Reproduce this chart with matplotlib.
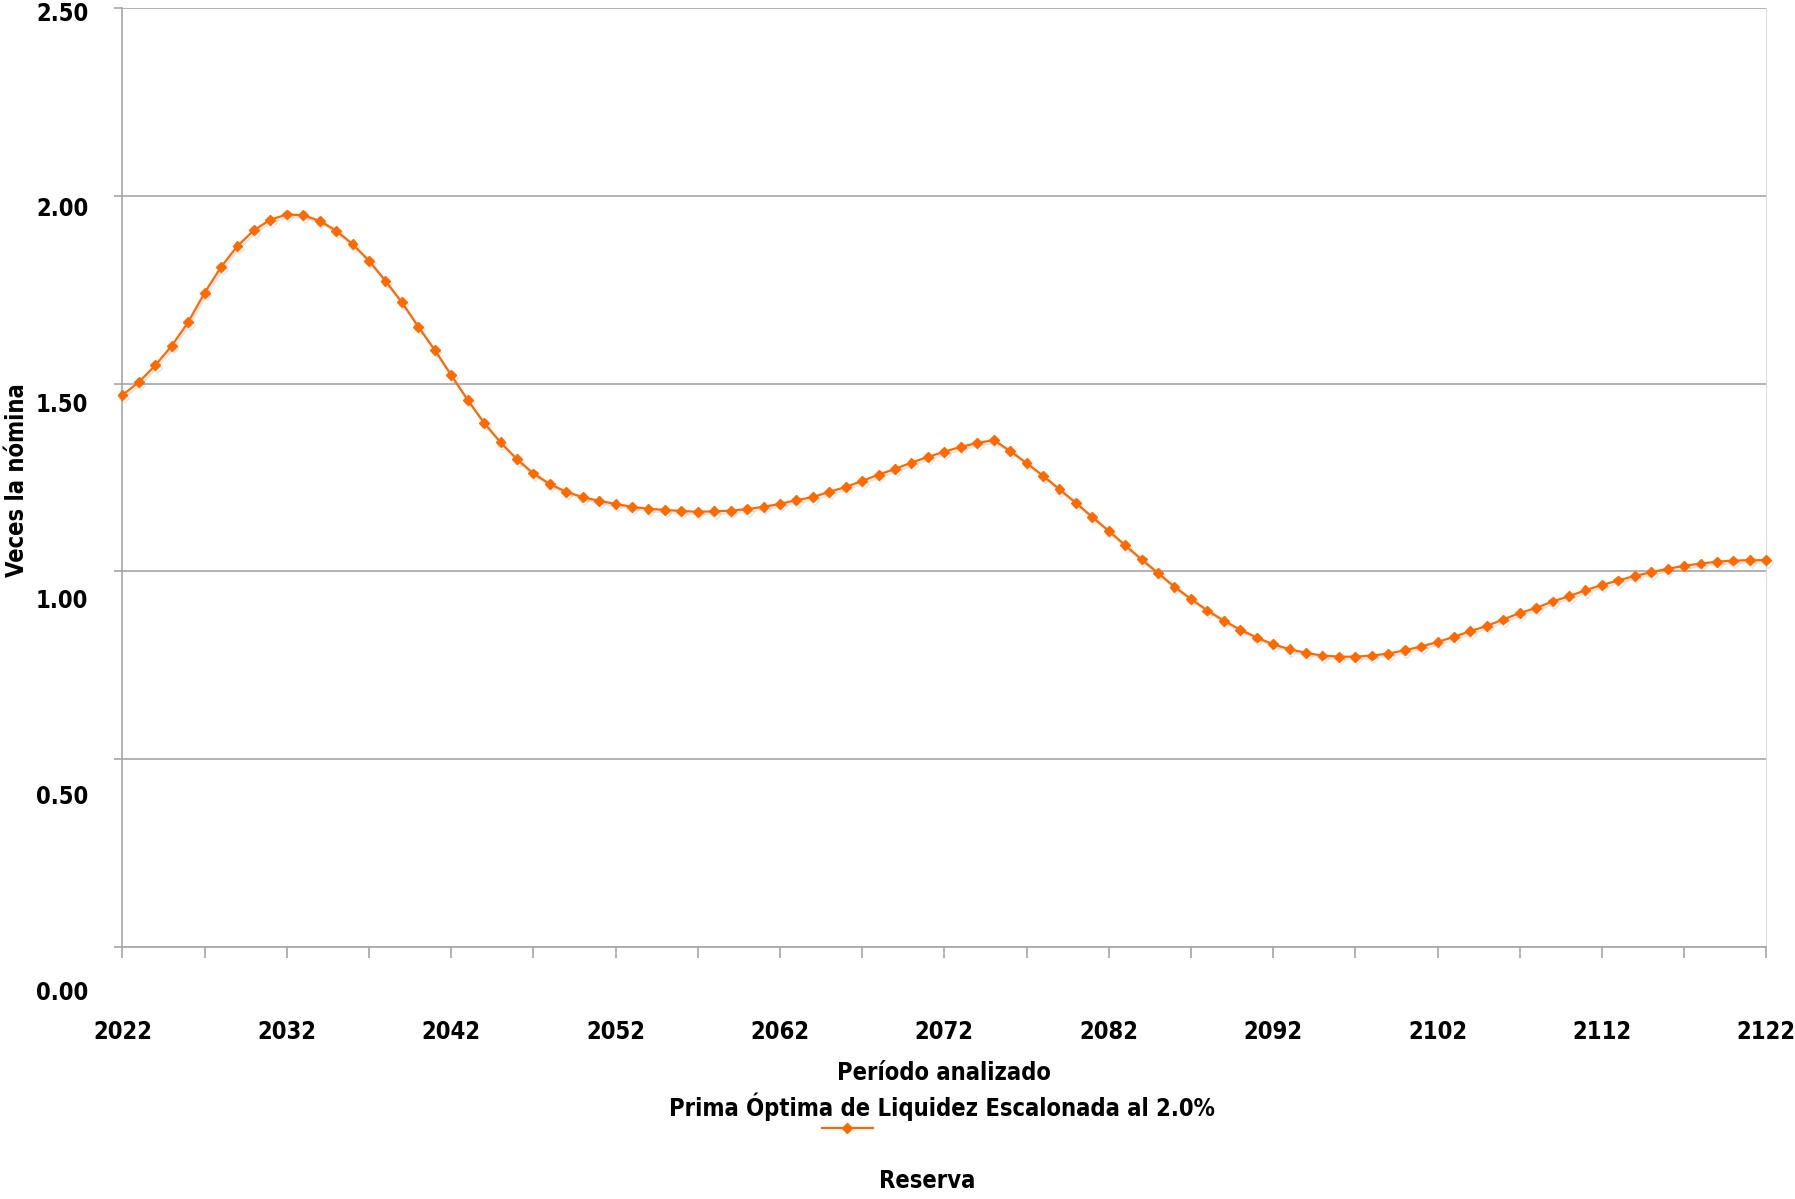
import numpy as np
import matplotlib

matplotlib.use("Agg")
import matplotlib.pyplot as plt
import matplotlib.patheffects as pe
import matplotlib.transforms as mtransforms

plt.rcParams["font.family"] = ["DejaVu Sans"]
plt.rcParams["font.stretch"] = "condensed"
plt.rcParams["font.weight"] = "bold"

# reserve as multiple of payroll, one value per year 2022..2122
years = np.arange(2022, 2123)
reserva = [
    1.470, 1.504, 1.549, 1.601, 1.664, 1.742, 1.811, 1.867, 1.909, 1.937,
    1.951, 1.949, 1.934, 1.908, 1.872, 1.828, 1.774, 1.717, 1.652, 1.590,
    1.523, 1.457, 1.396, 1.344, 1.299, 1.261, 1.233, 1.212, 1.198, 1.188,
    1.180, 1.172, 1.167, 1.164, 1.161, 1.159, 1.160, 1.162, 1.166, 1.172,
    1.180, 1.190, 1.198, 1.212, 1.225, 1.241, 1.258, 1.273, 1.290, 1.305,
    1.319, 1.332, 1.342, 1.350, 1.321, 1.289, 1.255, 1.219, 1.183, 1.145,
    1.108, 1.070, 1.032, 0.996, 0.959, 0.927, 0.896, 0.869, 0.845, 0.824,
    0.806, 0.793, 0.783, 0.776, 0.773, 0.773, 0.776, 0.781, 0.790, 0.800,
    0.812, 0.826, 0.841, 0.855, 0.872, 0.889, 0.903, 0.920, 0.934, 0.950,
    0.964, 0.976, 0.988, 0.998, 1.007, 1.015, 1.021, 1.026, 1.029, 1.030,
    1.030,
]
y_ticks = [0.0, 0.5, 1.0, 1.5, 2.0, 2.5]
y_labels = ["0.00", "0.50", "1.00", "1.50", "2.00", "2.50"]
x_ticks = list(range(2022, 2123, 5))
x_labels = [str(y) if (y - 2022) % 10 == 0 else "" for y in x_ticks]

ORANGE = "#FF6A00"
GRID = "#a6a6a6"
FS = 17
W, H = 1795, 1199

fig = plt.figure(figsize=(W / 100, H / 100), dpi=100)

# overlay in pixel units (top-left origin) for the loose texts and legend
over = fig.add_axes([0, 0, 1, 1])
over.set_xlim(0, W)
over.set_ylim(H, 0)
over.axis("off")

ax = fig.add_axes([0.0682, 0.2103, 0.9158, 0.7827])

ax.plot(years, reserva, "-", color=ORANGE, lw=1.6, marker="D", ms=5,
        mec=ORANGE, mfc=ORANGE, clip_on=False, zorder=3,
        path_effects=[pe.SimpleLineShadow(offset=(1.2, -1.8),
                                          shadow_color="gray", alpha=0.2),
                      pe.Normal()])

ax.set_xlim(2022, 2122)
ax.set_ylim(0, 2.5)
ax.set_xticks(x_ticks)
ax.set_xticklabels(x_labels, fontsize=FS)
ax.tick_params(axis="x", direction="out", length=8, width=1.2, color=GRID,
               pad=45)
ax.set_yticks(y_ticks)
ax.set_yticklabels([])
ax.tick_params(axis="y", direction="out", length=6, width=1.2, color=GRID)
ax.grid(axis="y", color=GRID, lw=1.2)
ax.set_axisbelow(True)

for side in ["left", "bottom"]:
    ax.spines[side].set_color(GRID)
    ax.spines[side].set_linewidth(1.2)
ax.spines["right"].set_color("#dddddd")
ax.spines["top"].set_visible(False)

# y labels sit on a slightly stretched scale, as in the original
trans = mtransforms.blended_transform_factory(fig.transFigure, ax.transData)
for v, lab in zip(y_ticks, y_labels):
    ax.text(62 / W, -0.122 + 1.0432 * v, lab, transform=trans, ha="center",
            va="center", fontsize=FS, clip_on=False)

over.text(17, 480, "Veces la nómina", rotation=90, ha="center", va="center",
          fontsize=FS)
over.text(944, 1073, "Período analizado", ha="center", va="center",
          fontsize=FS)
over.text(942, 1107, "Prima Óptima de Liquidez Escalonada al 2.0%",
          ha="center", va="center", fontsize=FS)
over.plot([822, 873], [1128, 1128], "-", color=ORANGE, lw=1.6)
over.plot([847], [1128], "D", color=ORANGE, ms=5)
over.text(927, 1181, "Reserva", ha="center", va="center", fontsize=FS)

fig.savefig("out.png", dpi=100)
